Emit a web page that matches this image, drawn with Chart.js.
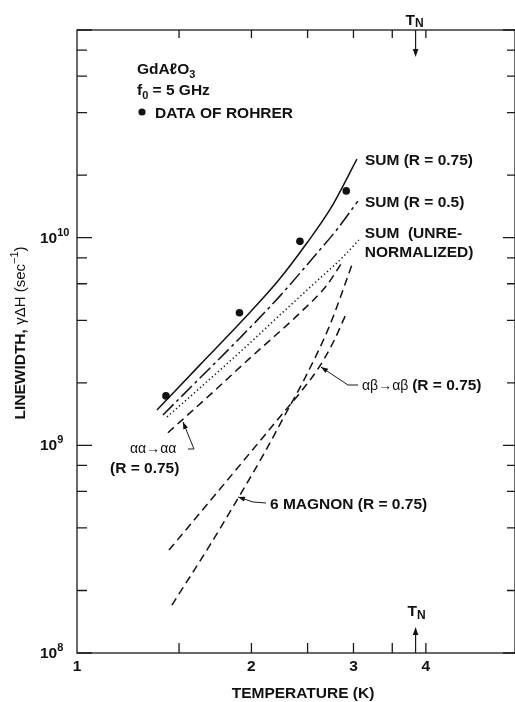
<!DOCTYPE html>
<html lang="en">
<head>
<meta charset="UTF-8">
<title>GdAlO3 linewidth</title>
<script src="https://cdn.jsdelivr.net/npm/chart.js"></script>
<style>
  body { margin: 0; background: #fff; }
  canvas { display: block; }
</style>
</head>
<body>
<canvas id="chart" width="515" height="702"></canvas>
<script>
// temperature (K) / linewidth (sec^-1)
const rohrerT = [1.424, 1.907, 2.425, 2.915];
const rohrerV = [1.73e9, 4.35e9, 9.60e9, 1.68e10];

const sum075T = [1.374, 1.630, 1.911, 2.222, 2.493, 2.743, 3.041];
const sum075V = [1.48e9, 2.44e9, 3.88e9, 6.18e9, 9.42e9, 1.39e10, 2.39e10];

const sum05T = [1.407, 1.630, 1.911, 2.239, 2.553, 2.820, 3.053];
const sum05V = [1.40e9, 2.11e9, 3.29e9, 5.23e9, 7.98e9, 1.11e10, 1.50e10];

const sumUnrenT = [1.430, 1.630, 1.988, 2.267, 2.594, 2.865, 3.065];
const sumUnrenV = [1.37e9, 1.89e9, 3.11e9, 4.38e9, 6.18e9, 7.98e9, 9.74e9];

const aaT = [1.435, 1.696, 1.988, 2.425, 2.700, 2.876];
const aaV = [1.15e9, 1.75e9, 2.63e9, 4.34e9, 5.91e9, 7.72e9];

const abT = [1.441, 1.696, 1.988, 2.239, 2.425, 2.604, 2.764, 2.923];
const abV = [3.13e8, 5.39e8, 9.18e8, 1.37e9, 1.79e9, 2.33e9, 3.11e9, 4.38e9];

const mag6T = [1.458, 1.696, 1.911, 2.110, 2.285, 2.474, 2.732, 2.981];
const mag6V = [1.70e8, 3.31e8, 5.76e8, 9.28e8, 1.40e9, 2.11e9, 3.80e9, 7.38e9];

const xTicks = [1.5, 2, 2.5, 3, 3.5, 4];
const xLabels = [1, 2, 3, 4];
const yTicks = [1e8, 2e8, 4e8, 6e8, 8e8, 1e9, 2e9, 4e9, 6e9, 8e9,
                1e10, 2e10, 4e10, 6e10, 8e10, 1e11];
const yLabels = [8, 9, 10]; // exponents
const tN = 3.84;

const pts = (t, v) => t.map((x, i) => ({ x: x, y: v[i] }));

const FONT = '"Liberation Sans", Arial, sans-serif';
const B = 'bold 15.5px ' + FONT;
const Bs = 'bold 11px ' + FONT;
const R = '15px ' + FONT;
const Rs = '11px ' + FONT;
const G = '14px ' + FONT;

function run(ctx, x, y, parts, align) {
    let w = 0;
    parts.forEach(p => { ctx.font = p.f; w += ctx.measureText(p.t).width; });
    let cx = align === 'center' ? x - w / 2 : align === 'right' ? x - w : x;
    parts.forEach(p => {
        ctx.font = p.f;
        ctx.fillText(p.t, cx, y + (p.dy || 0));
        cx += ctx.measureText(p.t).width;
    });
}

function arrowHead(ctx, x1, y1, x2, y2, len, wid) {
    const a = Math.atan2(y2 - y1, x2 - x1);
    ctx.save();
    ctx.translate(x2, y2);
    ctx.rotate(a);
    ctx.beginPath();
    ctx.moveTo(0, 0);
    ctx.lineTo(-len, -wid);
    ctx.lineTo(-len, wid);
    ctx.closePath();
    ctx.fill();
    ctx.restore();
}

function leader(ctx, path) {
    ctx.beginPath();
    ctx.moveTo(path[0][0], path[0][1]);
    for (let i = 1; i < path.length; i++) ctx.lineTo(path[i][0], path[i][1]);
    ctx.stroke();
    const n = path.length;
    arrowHead(ctx, path[n - 2][0], path[n - 2][1], path[n - 1][0], path[n - 1][1], 7, 2.5);
}

const framePlugin = {
    id: 'frame',
    afterDraw(chart) {
        const { ctx, chartArea: a, scales: { x, y } } = chart;
        ctx.save();
        ctx.strokeStyle = '#1a1a1a';
        ctx.fillStyle = '#111';
        ctx.lineWidth = 1.3;
        ctx.strokeRect(a.left, a.top, a.right - a.left, a.bottom - a.top);

        // inward ticks
        ctx.beginPath();
        yTicks.forEach(v => {
            const py = y.getPixelForValue(v);
            const major = Math.abs(Math.log10(v) - Math.round(Math.log10(v))) < 1e-9;
            ctx.moveTo(a.left, py); ctx.lineTo(a.left + (major ? 15 : 10), py);
            ctx.moveTo(a.right, py); ctx.lineTo(a.right - (major ? 12 : 8), py);
        });
        xTicks.forEach(v => {
            const px = x.getPixelForValue(v);
            ctx.moveTo(px, a.bottom); ctx.lineTo(px, a.bottom - 10);
            ctx.moveTo(px, a.top); ctx.lineTo(px, a.top + 8);
        });
        ctx.stroke();

        ctx.textAlign = 'left';
        ctx.textBaseline = 'alphabetic';
        xLabels.forEach(v => {
            run(ctx, x.getPixelForValue(v), a.bottom + 18, [{ t: String(v), f: B }], 'center');
        });
        yLabels.forEach(e => {
            const py = y.getPixelForValue(Math.pow(10, e));
            run(ctx, 40, py + 5, [{ t: '10', f: B }, { t: String(e), f: Bs, dy: -7 }], 'left');
        });

        // axis titles
        run(ctx, 303, 698, [{ t: 'TEMPERATURE (K)', f: B }], 'center');
        ctx.save();
        ctx.translate(25, 333);
        ctx.rotate(-Math.PI / 2);
        run(ctx, 0, 0, [
            { t: 'LINEWIDTH, ', f: B },
            { t: 'γΔH (sec', f: R },
            { t: '−1', f: Rs, dy: -7 },
            { t: ')', f: R }
        ], 'center');
        ctx.restore();

        // T_N markers
        const xn = x.getPixelForValue(tN);
        run(ctx, xn - 10, 25, [{ t: 'T', f: B }, { t: 'N', f: 'bold 12px ' + FONT, dy: 2 }], 'left');
        ctx.lineWidth = 1.2;
        ctx.beginPath(); ctx.moveTo(xn, a.top); ctx.lineTo(xn, a.top + 22); ctx.stroke();
        arrowHead(ctx, xn, a.top, xn, a.top + 27, 8, 2.8);
        run(ctx, xn - 8, 616, [{ t: 'T', f: B }, { t: 'N', f: 'bold 12px ' + FONT, dy: 3 }], 'left');
        ctx.beginPath(); ctx.moveTo(xn, a.bottom); ctx.lineTo(xn, a.bottom - 20); ctx.stroke();
        arrowHead(ctx, xn, a.bottom, xn, a.bottom - 26, 8, 2.8);

        // header block
        run(ctx, 137, 74, [{ t: 'GdAℓO', f: B }, { t: '3', f: Bs, dy: 4 }], 'left');
        run(ctx, 137, 95, [{ t: 'f', f: B }, { t: '0', f: Bs, dy: 4 }, { t: ' = 5 GHz', f: B }], 'left');
        ctx.beginPath(); ctx.arc(142, 112, 3.6, 0, Math.PI * 2); ctx.fill();
        run(ctx, 155, 118, [{ t: 'DATA OF ROHRER', f: B }], 'left');

        // curve labels next to the curve ends
        const end = (t, v) => [x.getPixelForValue(t[t.length - 1]), y.getPixelForValue(v[v.length - 1])];
        let p = end(sum075T, sum075V);
        run(ctx, p[0] + 8, p[1] + 6, [{ t: 'SUM (R = 0.75)', f: B }], 'left');
        p = end(sum05T, sum05V);
        run(ctx, p[0] + 7, p[1] + 6, [{ t: 'SUM (R = 0.5)', f: B }], 'left');
        p = end(sumUnrenT, sumUnrenV);
        run(ctx, p[0] + 6, p[1] - 2, [{ t: 'SUM  (UNRE-', f: B }], 'left');
        run(ctx, p[0] + 6, p[1] + 17, [{ t: 'NORMALIZED)', f: B }], 'left');

        ctx.lineWidth = 1;
        run(ctx, 362, 390, [{ t: 'αβ→αβ ', f: G }, { t: '(R = 0.75)', f: B }], 'left');
        leader(ctx, [[358, 385], [348, 385], [321, 367]]);

        run(ctx, 130, 453, [{ t: 'αα→αα', f: G }], 'left');
        run(ctx, 110, 473, [{ t: '(R = 0.75)', f: B }], 'left');
        leader(ctx, [[188, 449], [194, 449], [183, 422]]);

        run(ctx, 270, 509, [{ t: '6 MAGNON (R = 0.75)', f: B }], 'left');
        leader(ctx, [[266, 503], [253, 502], [238, 497]]);

        ctx.restore();
    }
};

const lineStyle = (dash) => ({
    showLine: true,
    borderColor: '#111',
    borderWidth: 1.5,
    borderDash: dash,
    pointRadius: 0,
    cubicInterpolationMode: 'monotone',
    fill: false
});

new Chart(document.getElementById('chart'), {
    type: 'scatter',
    data: {
        datasets: [
            Object.assign({ label: 'SUM (R = 0.75)', data: pts(sum075T, sum075V) }, lineStyle([])),
            Object.assign({ label: 'SUM (R = 0.5)', data: pts(sum05T, sum05V) }, lineStyle([15, 4, 3, 4])),
            Object.assign({ label: 'SUM (UNRENORMALIZED)', data: pts(sumUnrenT, sumUnrenV) }, lineStyle([1.3, 2.7])),
            Object.assign({ label: 'αα→αα (R = 0.75)', data: pts(aaT, aaV) }, lineStyle([8, 5])),
            Object.assign({ label: 'αβ→αβ (R = 0.75)', data: pts(abT, abV) }, lineStyle([8, 5])),
            Object.assign({ label: '6 MAGNON (R = 0.75)', data: pts(mag6T, mag6V) }, lineStyle([8, 5])),
            {
                label: 'DATA OF ROHRER',
                data: pts(rohrerT, rohrerV),
                showLine: false,
                pointRadius: 3.8,
                pointBackgroundColor: '#111',
                pointBorderWidth: 0
            }
        ]
    },
    options: {
        responsive: false,
        animation: false,
        layout: { autoPadding: false, padding: { left: 77, right: 0, top: 30, bottom: 49 } },
        plugins: { legend: { display: false }, tooltip: { enabled: false } },
        scales: {
            x: { type: 'logarithmic', min: 1, max: 5.7, display: false },
            y: { type: 'logarithmic', min: 1e8, max: 1e11, display: false }
        }
    },
    plugins: [framePlugin]
});
</script>
</body>
</html>
